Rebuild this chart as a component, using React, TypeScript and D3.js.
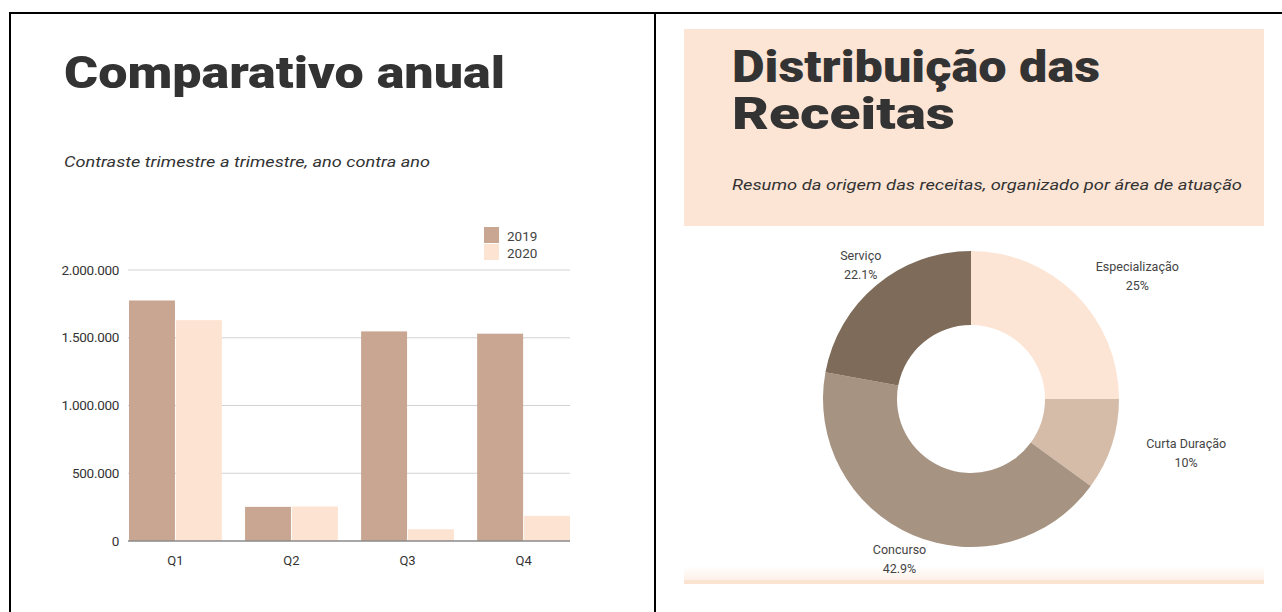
import React from "react";
import * as d3 from "d3";

const quarters = ["Q1", "Q2", "Q3", "Q4"];
const years = ["2019", "2020"];
const values2019 = [1775000, 252000, 1547000, 1530000];
const values2020 = [1630000, 255000, 87000, 186000];
const yTicks = [0, 500000, 1000000, 1500000, 2000000];
const barColors = ["#c9a691", "#fde4d2"];

const sliceLabels = ["Especialização", "Curta Duração", "Concurso", "Serviço"];
const sliceValues = [25, 10, 42.9, 22.1];
const sliceText = ["25%", "10%", "42.9%", "22.1%"];
const sliceColors = ["#fde5d5", "#d5bca9", "#a79381", "#7e6b59"];

const ptBR = d3.formatLocale({ decimal: ",", thousands: ".", grouping: [3], currency: ["R$", ""] });
const fmt = ptBR.format(",d");

const TITLE_FONT = "Roboto, 'Liberation Sans', sans-serif";
const BODY_FONT = "Roboto, 'Liberation Sans', sans-serif";

function BarChart() {
  const x = d3.scaleBand<string>().domain(quarters).range([129, 570]).paddingInner(0.2).paddingOuter(0);
  const xs = d3.scaleBand<string>().domain(years).range([0, x.bandwidth()]).paddingInner(0.02);
  const y = d3.scaleLinear().domain([0, 2000000]).range([541, 270]);
  const series = [values2019, values2020];
  return (
    <g>
      {yTicks.map((t) => (
        <g key={t}>
          {t !== 0 && (
            <line x1={128} x2={570} y1={y(t)} y2={y(t)} stroke="#d3d3d3" strokeWidth={1.2} />
          )}
          <text x={119} y={y(t) + 4.5} textAnchor="end" fontSize={13.5} fill="#333" fontFamily={BODY_FONT} letterSpacing={-0.3}>
            {fmt(t)}
          </text>
        </g>
      ))}
      {quarters.map((q, i) =>
        years.map((yr, j) => {
          const v = series[j][i];
          return (
            <rect
              key={q + yr}
              x={(x(q) as number) + (xs(yr) as number)}
              y={y(v)}
              width={xs.bandwidth()}
              height={y(0) - y(v)}
              fill={barColors[j]}
            />
          );
        })
      )}
      <line x1={128} x2={570} y1={y(0)} y2={y(0)} stroke="#8a8a8a" strokeWidth={1.5} />
      {quarters.map((q) => (
        <text
          key={q}
          x={(x(q) as number) + x.bandwidth() / 2}
          y={565}
          textAnchor="middle"
          fontSize={13}
          fill="#333"
          fontFamily={BODY_FONT}
        >
          {q}
        </text>
      ))}
      {years.map((yr, j) => (
        <g key={yr}>
          <rect x={484} y={227 + j * 17} width={15} height={16} fill={barColors[j]} />
          <text x={507} y={241 + j * 17} fontSize={13.5} fill="#444" fontFamily={BODY_FONT}>
            {yr}
          </text>
        </g>
      ))}
    </g>
  );
}

function Donut() {
  const cx = 971;
  const cy = 399;
  const r = 148;
  const pie = d3.pie<number>().sort(null).value((d) => d)(sliceValues);
  const arc = d3.arc<d3.PieArcDatum<number>>().innerRadius(r * 0.5).outerRadius(r);
  const labelRy = r * 1.18;
  const labelRx = r * 0.74;
  return (
    <g transform={`translate(${cx},${cy})`}>
      {pie.map((p, i) => (
        <path key={i} d={arc(p) as string} fill={sliceColors[i]} />
      ))}
      {pie.map((p, i) => {
        const a = (p.startAngle + p.endAngle) / 2;
        const halfW = sliceLabels[i].length * 3.15;
        const lx = Math.sin(a) * (labelRx + halfW * 2.85);
        const ly = -Math.cos(a) * labelRy;
        return (
          <text key={i} textAnchor="middle" fontSize={12.5} fill="#444" fontFamily={BODY_FONT}>
            <tspan x={lx} y={ly - 5}>{sliceLabels[i]}</tspan>
            <tspan x={lx} y={ly + 14}>{sliceText[i]}</tspan>
          </text>
        );
      })}
    </g>
  );
}

export default function App() {
  return (
    <svg
      width={1282}
      height={612}
      style={{ position: "absolute", left: 0, top: 0, background: "#fff" }}
    >
      <defs>
        <linearGradient id="fade" x1="0" y1="0" x2="0" y2="1">
          <stop offset="0" stopColor="#ffffff" />
          <stop offset="1" stopColor="#fdf1e8" />
        </linearGradient>
      </defs>
      <rect x={0} y={0} width={1282} height={612} fill="#fff" />
      {/* borders */}
      <rect x={9} y={12} width={2} height={600} fill="#000" />
      <rect x={9} y={12} width={1273} height={2} fill="#000" />
      <rect x={654} y={12} width={2} height={600} fill="#000" />

      {/* left panel */}
      <text x={64} y={88} fontSize={45} fontWeight={900} fill="#333" fontFamily={TITLE_FONT}
        textLength={441} lengthAdjust="spacingAndGlyphs">
        Comparativo anual
      </text>
      <text x={64} y={167} fontSize={15} fontStyle="italic" fill="#333" fontFamily={BODY_FONT}
        textLength={366} lengthAdjust="spacingAndGlyphs">
        Contraste trimestre a trimestre, ano contra ano
      </text>
      <BarChart />

      {/* right panel */}
      <rect x={684} y={29} width={580} height={197} fill="#fde5d5" />
      <text fontSize={45} fontWeight={900} fill="#333" fontFamily={TITLE_FONT}>
        <tspan x={732} y={82} textLength={368} lengthAdjust="spacingAndGlyphs">Distribuição das</tspan>
        <tspan x={732} y={129} textLength={223} lengthAdjust="spacingAndGlyphs">Receitas</tspan>
      </text>
      <text x={732} y={190} fontSize={15} fontStyle="italic" fill="#333" fontFamily={BODY_FONT}
        textLength={510} lengthAdjust="spacingAndGlyphs">
        Resumo da origem das receitas, organizado por área de atuação
      </text>
      <rect x={684} y={566} width={580} height={14} fill="url(#fade)" />
      <rect x={684} y={580} width={580} height={4} fill="#fbe3d2" />
      <Donut />
    </svg>
  );
}
